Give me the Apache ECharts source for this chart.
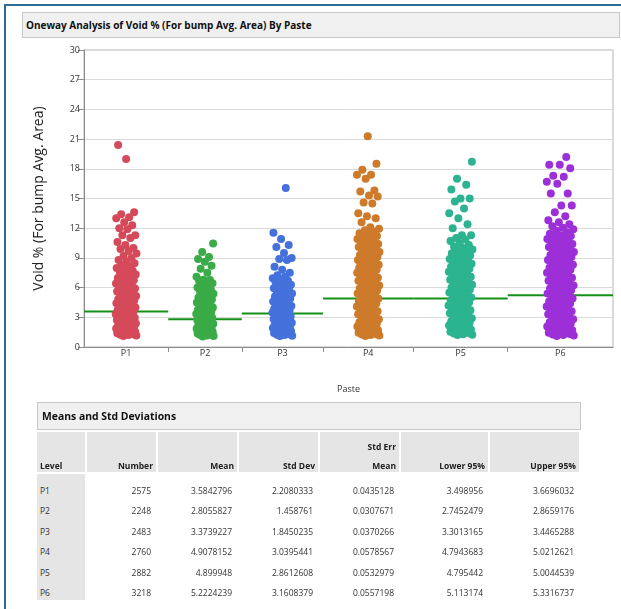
<!DOCTYPE html>
<html>
<head>
<meta charset="utf-8">
<script src="https://cdn.jsdelivr.net/npm/echarts@6/dist/echarts.min.js"></script>
<style>
  html,body{margin:0;padding:0;background:#fff;}
  body{width:621px;height:609px;position:relative;overflow:hidden;font-family:"Open Sans","Noto Sans",sans-serif;color:#222;}
  #chart{position:absolute;left:0;top:0;width:621px;height:609px;}
  .abs{position:absolute;box-sizing:border-box;}
  .box{background:#f0f0f0;border:1px solid #c9c9c9;}
  .hdr{background:#e5e5e5;}
  .t{position:absolute;white-space:nowrap;line-height:1;}
</style>
</head>
<body>
<div id="chart"></div>
<div id="overlay"></div>
<script>
// ---------- data ----------
const levels = ["P1","P2","P3","P4","P5","P6"];
const numbers = [2575, 2248, 2483, 2760, 2882, 3218];
const means = [3.5842796, 2.8055827, 3.3739227, 4.9078152, 4.899948, 5.2224239];
const stdDevs = [2.2080333, 1.458761, 1.8450235, 3.0395441, 2.8612608, 3.1608379];
const stdErrs = [0.0435128, 0.0307671, 0.0370266, 0.0578567, 0.0532979, 0.0557198];
const lower95 = [3.498956, 2.7452479, 3.3013165, 4.7943683, 4.795442, 5.113174];
const upper95 = [3.6696032, 2.8659176, 3.4465288, 5.0212621, 5.0044539, 5.3316737];
const yTicks = [0, 3, 6, 9, 12, 15, 18, 21, 24, 27, 30];

// Void % values read from the jittered point clouds (sample of each group)
const voidP1 = [1.12,1.15,1.2,1.24,1.3,1.33,1.38,1.45,1.5,1.55,1.6,1.68,1.72,1.8,1.86,1.9,1.98,2.05,2.1,2.18,2.24,2.3,2.37,2.45,2.5,2.58,2.66,2.72,2.8,2.88,2.95,3.02,3.1,3.18,3.25,3.34,3.4,3.5,3.58,3.66,3.75,3.82,3.9,4.0,4.08,4.16,4.25,4.34,4.42,4.5,4.6,4.7,4.78,4.86,4.96,5.05,5.14,5.22,5.32,5.42,5.5,5.6,5.7,5.8,5.9,6.0,6.1,6.2,6.3,6.42,6.52,6.62,6.74,6.85,6.96,7.08,7.2,7.32,7.45,7.58,7.7,7.84,7.98,8.12,8.28,8.45,8.6,8.8,9.0,9.2,9.45,9.7,9.9,10.0,10.3,10.6,11.0,11.3,11.3,11.9,12.0,12.3,12.6,13.0,13.1,13.4,13.6,19.0,20.4];
const voidP2 = [1.05,1.1,1.15,1.2,1.26,1.3,1.36,1.42,1.48,1.54,1.6,1.66,1.72,1.78,1.84,1.9,1.96,2.02,2.1,2.16,2.22,2.3,2.36,2.44,2.5,2.58,2.64,2.72,2.8,2.88,2.95,3.02,3.1,3.18,3.26,3.34,3.42,3.5,3.58,3.66,3.75,3.84,3.92,4.0,4.1,4.2,4.3,4.4,4.5,4.6,4.7,4.8,4.9,5.0,5.12,5.25,5.38,5.5,5.62,5.75,5.88,6.0,6.15,6.3,6.45,6.6,6.7,6.77,6.8,7.1,7.5,7.9,8.2,8.6,8.9,9.1,9.6,10.45];
const voidP3 = [1.1,1.14,1.2,1.25,1.3,1.36,1.42,1.48,1.54,1.6,1.66,1.72,1.78,1.85,1.92,1.98,2.05,2.12,2.18,2.26,2.32,2.4,2.46,2.54,2.62,2.7,2.76,2.84,2.92,3.0,3.08,3.16,3.24,3.32,3.4,3.48,3.56,3.64,3.72,3.8,3.9,3.98,4.06,4.15,4.24,4.32,4.42,4.5,4.6,4.7,4.8,4.9,5.0,5.1,5.2,5.3,5.4,5.5,5.6,5.7,5.82,5.94,6.06,6.18,6.3,6.42,6.55,6.68,6.8,6.95,7.1,7.25,7.5,7.8,8.1,8.8,8.9,9.0,9.5,10.1,10.3,10.9,11.55,16.05];
const voidP4 = [1.1,1.15,1.2,1.26,1.32,1.38,1.45,1.52,1.6,1.68,1.76,1.84,1.92,2.0,2.08,2.16,2.25,2.34,2.42,2.5,2.6,2.7,2.8,2.9,3.0,3.1,3.2,3.3,3.4,3.5,3.6,3.7,3.8,3.9,4.0,4.1,4.2,4.3,4.4,4.5,4.6,4.7,4.8,4.9,5.0,5.1,5.2,5.3,5.4,5.5,5.6,5.7,5.8,5.9,6.0,6.1,6.2,6.3,6.4,6.5,6.6,6.7,6.8,6.9,7.0,7.1,7.2,7.3,7.4,7.5,7.6,7.7,7.8,7.9,8.0,8.1,8.2,8.3,8.4,8.5,8.6,8.7,8.8,8.9,9.0,9.1,9.2,9.3,9.4,9.5,9.6,9.7,9.8,9.9,10.0,10.1,10.2,10.3,10.4,10.5,10.6,10.7,10.8,10.9,11.0,11.1,11.2,11.35,11.5,11.65,11.8,11.95,12.1,12.6,13.0,13.2,13.5,14.5,14.6,15.2,15.3,15.7,15.8,17.0,17.4,17.4,17.9,18.5,21.3];
const voidP5 = [1.2,1.25,1.3,1.36,1.42,1.48,1.55,1.62,1.7,1.78,1.86,1.94,2.02,2.1,2.18,2.26,2.35,2.44,2.52,2.6,2.7,2.8,2.9,3.0,3.1,3.2,3.3,3.4,3.5,3.6,3.7,3.8,3.9,4.0,4.1,4.2,4.3,4.4,4.5,4.6,4.7,4.8,4.9,5.0,5.1,5.2,5.3,5.4,5.5,5.6,5.7,5.8,5.9,6.0,6.1,6.2,6.3,6.4,6.5,6.6,6.7,6.8,6.9,7.0,7.1,7.2,7.3,7.4,7.5,7.6,7.7,7.8,7.9,8.0,8.1,8.2,8.3,8.4,8.5,8.6,8.7,8.8,8.9,9.0,9.12,9.24,9.36,9.48,9.6,9.72,9.85,10.0,10.15,10.3,10.5,10.7,10.85,11.0,11.3,11.3,12.0,12.4,13.0,13.5,14.0,14.7,15.0,15.0,15.9,16.4,17.0,18.7];
const voidP6 = [1.1,1.15,1.2,1.26,1.32,1.38,1.45,1.52,1.6,1.68,1.76,1.84,1.92,2.0,2.08,2.16,2.25,2.34,2.42,2.5,2.6,2.7,2.8,2.9,3.0,3.1,3.2,3.3,3.4,3.5,3.6,3.7,3.8,3.9,4.0,4.1,4.2,4.3,4.4,4.5,4.6,4.7,4.8,4.9,5.0,5.1,5.2,5.3,5.4,5.5,5.6,5.7,5.8,5.9,6.0,6.1,6.2,6.3,6.4,6.5,6.6,6.7,6.8,6.9,7.0,7.1,7.2,7.3,7.4,7.5,7.6,7.7,7.8,7.9,8.0,8.1,8.2,8.3,8.4,8.5,8.6,8.7,8.8,8.9,9.0,9.1,9.2,9.3,9.4,9.5,9.6,9.7,9.8,9.9,10.0,10.1,10.2,10.3,10.4,10.5,10.6,10.7,10.8,10.9,11.0,11.1,11.2,11.3,11.45,11.6,11.75,11.9,12.05,12.2,12.4,12.6,12.8,13.2,13.6,14.3,14.3,15.5,15.5,16.5,16.7,17.2,17.3,18.05,18.4,18.4,19.2];
const groupValues = [voidP1, voidP2, voidP3, voidP4, voidP5, voidP6];
const colors = ["#d54a5a", "#3aab47", "#4571dc", "#cd7a2b", "#2bb48f", "#9d2fd8"];

// ---------- layout ----------
const G = {left: 84, top: 50, width: 529, height: 297};
const total = numbers.reduce((a, b) => a + b, 0);
const starts = [], ends = [], centers = [];
let acc = 0;
numbers.forEach(n => { starts.push(acc); acc += n; ends.push(acc); centers.push(acc - n / 2); });
const unitsPerPx = total / G.width;

const scatterSeries = groupValues.map((vals, g) => {
  const half = 0.155 * numbers[g] - 2.6 * unitsPerPx;
  const data = vals.map((v, i) => {
    const f = ((i * 0.6180339887 + 0.37) % 1) * 2 - 1;
    return [centers[g] + f * half, v];
  });
  return {
    type: 'scatter', name: levels[g], data: data, symbol: 'circle', symbolSize: 8,
    itemStyle: {color: colors[g], opacity: 1, borderWidth: 0},
    z: 3, silent: true
  };
});

const meanSeries = {
  type: 'custom', z: 2, silent: true,
  data: levels.map((l, g) => [starts[g], ends[g], means[g]]),
  renderItem: function (params, api) {
    const p1 = api.coord([api.value(0), api.value(2)]);
    const p2 = api.coord([api.value(1), api.value(2)]);
    return {type: 'line', shape: {x1: p1[0], y1: p1[1], x2: p2[0], y2: p2[1]},
      style: {stroke: '#169016', lineWidth: 2}};
  }
};

const chart = echarts.init(document.getElementById('chart'), null, {renderer: 'canvas'});
const fam = '"Open Sans","Noto Sans",sans-serif';
chart.setOption({
  animation: false,
  grid: {left: G.left, top: G.top, width: G.width, height: G.height, show: true,
    borderColor: '#b4b4b4', borderWidth: 1, backgroundColor: 'transparent'},
  xAxis: {
    type: 'value', min: 0, max: total,
    name: 'Paste', nameLocation: 'middle', nameGap: 38,
    nameTextStyle: {fontSize: 9, color: '#333', fontFamily: fam},
    axisLine: {show: true, lineStyle: {color: '#8c8c8c', width: 1}},
    axisTick: {show: true, length: 5, lineStyle: {color: '#8c8c8c'}, customValues: ends.slice(0, -1)},
    axisLabel: {show: true, customValues: centers, margin: 2, fontSize: 9, color: '#333', fontFamily: fam,
      formatter: function (v) {
        for (let i = 0; i < centers.length; i++) if (Math.abs(centers[i] - v) < 1) return levels[i];
        return '';
      }},
    splitLine: {show: false}
  },
  yAxis: {
    type: 'value', min: yTicks[0], max: yTicks[yTicks.length - 1], interval: 3,
    name: 'Void % (For bump Avg. Area)', nameLocation: 'middle', nameGap: 38, nameRotate: 90,
    nameTextStyle: {fontSize: 14, color: '#222', fontFamily: fam},
    axisLine: {show: true, lineStyle: {color: '#8c8c8c', width: 1}},
    axisTick: {show: true, length: 6, lineStyle: {color: '#8c8c8c'}},
    axisLabel: {margin: 4, fontSize: 9, color: '#333', fontFamily: fam},
    splitLine: {show: true, lineStyle: {color: '#dadada', width: 1}}
  },
  series: [meanSeries].concat(scatterSeries)
});

// ---------- HTML overlay: frame, title, table ----------
const ov = document.getElementById('overlay');
function el(cls, css, text) {
  const d = document.createElement('div');
  d.className = cls;
  d.style.cssText = css;
  if (text !== undefined) d.textContent = text;
  ov.appendChild(d);
  return d;
}
el('abs', 'left:4px;top:4px;width:2px;height:605px;background:#2f6c99;');
el('abs', 'left:4px;top:4px;width:617px;height:2px;background:#2f6c99;');
el('abs box', 'left:22px;top:12px;width:598px;height:26px;');
el('t', 'left:26px;top:19.5px;font-weight:bold;font-size:10px;color:#111;', 'Oneway Analysis of Void % (For bump Avg. Area) By Paste');

el('abs box', 'left:37px;top:402px;width:544px;height:28px;');
el('t', 'left:42px;top:410.5px;font-weight:bold;font-size:10.4px;color:#111;', 'Means and Std Deviations');

const colEdges = [37, 86, 157, 238, 319, 400, 489, 580];
const headers = ["Level", "Number", "Mean", "Std Dev", "Std Err\nMean", "Lower 95%", "Upper 95%"];
for (let c = 0; c < 7; c++) {
  const l = colEdges[c] + (c === 0 ? 0 : 1), r = colEdges[c + 1] - 1;
  el('abs hdr', `left:${l}px;top:432px;width:${r - l}px;height:40px;`);
}
el('abs hdr', 'left:37px;top:474px;width:48px;height:126px;');
headers.forEach((h, c) => {
  const r = colEdges[c + 1] - 1;
  const parts = h.split('\n');
  if (c === 0) {
    el('t', `left:40px;top:462px;font-weight:bold;font-size:8.5px;color:#222;`, h);
  } else if (parts.length === 2) {
    el('t', `right:${621 - (r - 3)}px;top:443px;font-weight:bold;font-size:8.5px;color:#222;text-align:right;`, parts[0]);
    el('t', `right:${621 - (r - 3)}px;top:462px;font-weight:bold;font-size:8.5px;color:#222;text-align:right;`, parts[1]);
  } else {
    el('t', `right:${621 - (r - 3)}px;top:462px;font-weight:bold;font-size:8.5px;color:#222;text-align:right;`, h);
  }
});
const rowY = [491.5, 512, 532.5, 553, 573.5, 594];
const cols = [numbers, means, stdDevs, stdErrs, lower95, upper95];
levels.forEach((lv, i) => {
  const top = rowY[i] - 5;
  el('t', `left:40px;top:${top}px;font-size:8.5px;color:#333;`, lv);
  cols.forEach((arr, c) => {
    const r = colEdges[c + 2] - 1;
    el('t', `right:${621 - (r - 5)}px;top:${top}px;font-size:8.5px;color:#333;text-align:right;`, String(arr[i]));
  });
});
</script>
</body>
</html>
